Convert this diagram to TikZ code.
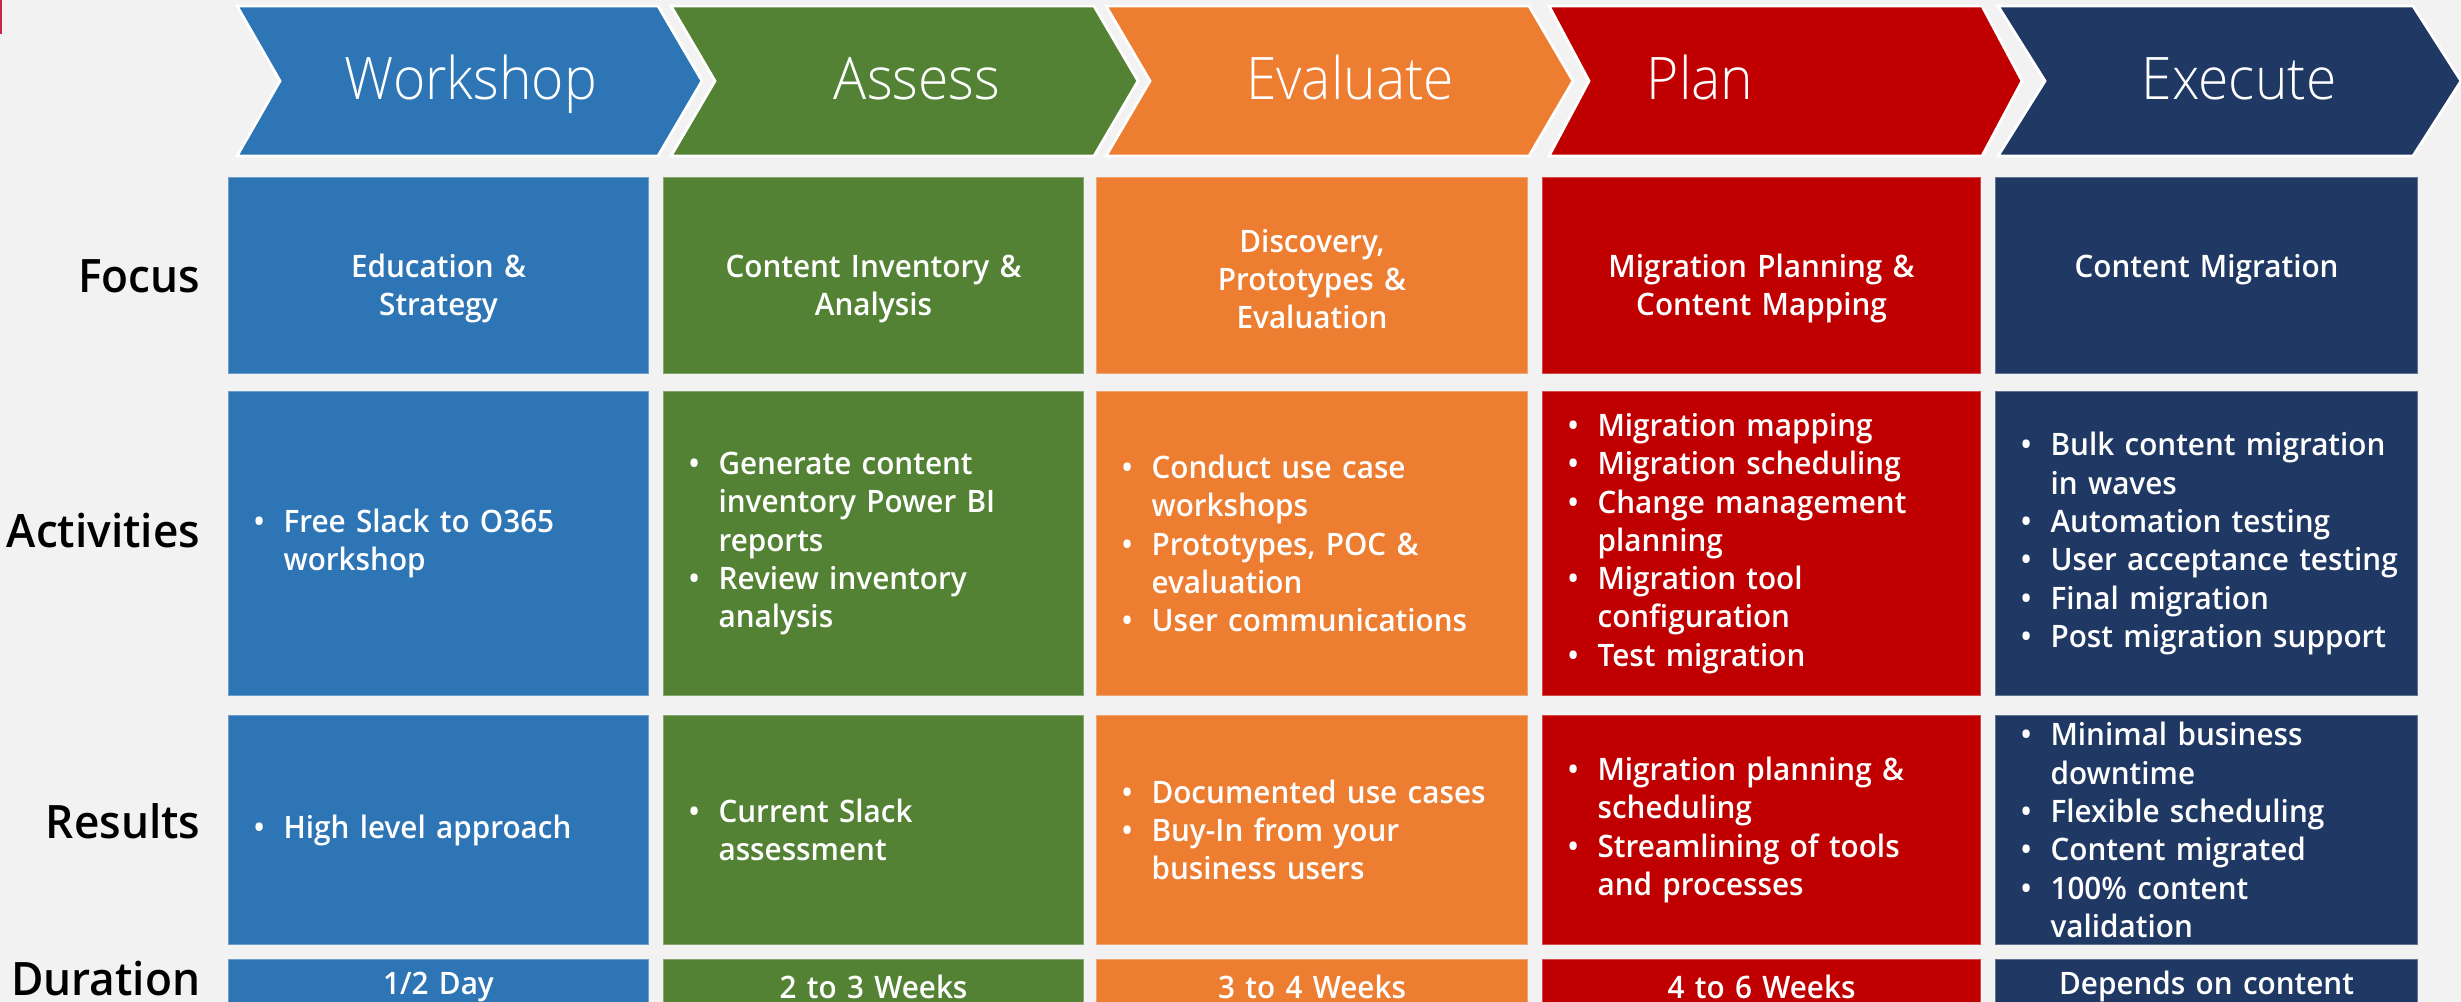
\documentclass[tikz,border=0pt]{standalone}
\usepackage{fontspec}
\setmainfont{Open Sans}
\newfontfamily\semifont{Open Sans Semibold}[FakeStretch=0.96]
\newfontfamily\lightfont{Open Sans Light}[FakeStretch=0.94]
\usepackage{tikz}
\usetikzlibrary{positioning}
\definecolor{bgc}{HTML}{F2F2F2}
\definecolor{wsblue}{HTML}{2E75B6}
\definecolor{asgreen}{HTML}{548235}
\definecolor{evorange}{HTML}{ED7D31}
\definecolor{plred}{HTML}{C00000}
\definecolor{exnavy}{HTML}{203864}
\definecolor{markc}{HTML}{C8254A}
\newcommand{\bitem}[1]{\makebox[3mm][l]{\textbullet}\mbox{#1}}
\newcommand{\bcont}[1]{\hspace*{3mm}\mbox{#1}}
\newcommand{\padtop}[1]{\rule{0pt}{#1}}
\newcommand{\padbot}[1]{\rule[-#1]{0pt}{0pt}}

\begin{document}
\begin{tikzpicture}[x=0.1mm, y=-0.1mm,
	chev/.style = {fill=#1, draw=white, line width=0.8pt, line join=miter},
	phase/.style = {anchor=base, text=white, inner sep=0pt, font=\lightfont\fontsize{16.7}{20}\selectfont},
	rowlab/.style = {anchor=base east, inner sep=0pt, font=\semifont\fontsize{13.1}{15}\selectfont},
	cell/.style = {fill=#1, draw=#1!70!white, line width=0.3pt, text=white, anchor=north west, inner xsep=2.5mm, inner ysep=0pt, align=left, font=\semifont\fontsize{8.8}{10.9}\selectfont},
	mid/.style = {align=center},
	c1/.style = {minimum width=42mm, text width=37mm},
	c2/.style = {minimum width=42mm, text width=37mm},
	c3/.style = {minimum width=43.1mm, text width=38.1mm},
	c4/.style = {minimum width=43.8mm, text width=38.8mm},
	c5/.style = {minimum width=42.2mm, text width=37.2mm},
	rf/.style = {minimum height=19.6mm},
	ra/.style = {minimum height=30.4mm},
	rr/.style = {minimum height=22.9mm},
	rd/.style = {minimum height=5.4mm}]

	\useasboundingbox (0,0) rectangle (2461,1002);
	\fill[bgc] (0,0) rectangle (2461,1002);
	\fill[markc] (0,0) rectangle (2,34);

	% phase chevrons
	\draw[chev=wsblue] (237,6) -- (658,6) -- (702,81) -- (658,156) -- (237,156) -- (280,81) -- cycle;
	\draw[chev=asgreen] (671,6) -- (1094,6) -- (1138,81) -- (1094,156) -- (671,156) -- (715,81) -- cycle;
	\draw[chev=evorange] (1106,6) -- (1529,6) -- (1573,81) -- (1529,156) -- (1106,156) -- (1150,81) -- cycle;
	\draw[chev=plred] (1549,6) -- (1982,6) -- (2022,81) -- (1982,156) -- (1549,156) -- (1589,81) -- cycle;
	\draw[chev=exnavy] (1998,6) -- (2413,6) -- (2461,81) -- (2413,156) -- (1998,156) -- (2045,81) -- cycle;
	\node[phase] (p1) at (471,100) {Workshop};
	\node[phase] (p2) at (917,100) {Assess};
	\node[phase] (p3) at (1350,100) {Evaluate};
	\node[phase] (p4) at (1700,100) {Plan};
	\node[phase] (p5) at (2239,100) {Execute};

	% row labels
	\node[rowlab] (lf) at (201,293) {Focus};
	\node[rowlab] (la) at (201,548) {Activities};
	\node[rowlab] (lr) at (201,839) {Results};
	\node[rowlab] (ld) at (201,995) {Duration};

	% focus
	\node[cell=wsblue, c1, rf, mid] (f1) at (228,177) {\padtop{4.9mm}Education \&\\Strategy};
	\node[cell=asgreen, c2, rf, mid] (f2) at (663,177) {\padtop{4.9mm}Content Inventory \&\\Analysis};
	\node[cell=evorange, c3, rf, mid] (f3) at (1096,177) {\padtop{3mm}Discovery,\\Prototypes \&\\Evaluation};
	\node[cell=plred, c4, rf, mid] (f4) at (1542,177) {\padtop{4.9mm}Migration Planning \&\\Content Mapping};
	\node[cell=exnavy, c5, rf, mid] (f5) at (1995,177) {\padbot{1.95mm}Content Migration};

	% activities
	\node[cell=wsblue, c1, ra] (a1) at (228,391) {\bitem{Free Slack to O365}\\\bcont{workshop}};
	\node[cell=asgreen, c2, ra] (a2) at (663,391) {\bitem{Generate content}\\\bcont{inventory Power BI}\\\bcont{reports}\\\bitem{Review inventory}\\\bcont{analysis}};
	\node[cell=evorange, c3, ra] (a3) at (1096,391) {\bitem{Conduct use case}\\\bcont{workshops}\\\bitem{Prototypes, POC \&}\\\bcont{evaluation}\\\bitem{User communications}};
	\node[cell=plred, c4, ra] (a4) at (1542,391) {\bitem{Migration mapping}\\\bitem{Migration scheduling}\\\bitem{Change management}\\\bcont{planning}\\\bitem{Migration tool}\\\bcont{configuration}\\\bitem{Test migration}};
	\node[cell=exnavy, c5, ra] (a5) at (1995,391) {\bitem{Bulk content migration}\\\bcont{in waves}\\\bitem{Automation testing}\\\bitem{User acceptance testing}\\\bitem{Final migration}\\\bitem{Post migration support}};

	% results
	\node[cell=wsblue, c1, rr] (r1) at (228,715) {\bitem{High level approach}};
	\node[cell=asgreen, c2, rr] (r2) at (663,715) {\bitem{Current Slack}\\\bcont{assessment}};
	\node[cell=evorange, c3, rr] (r3) at (1096,715) {\bitem{Documented use cases}\\\bitem{Buy-In from your}\\\bcont{business users}};
	\node[cell=plred, c4, rr] (r4) at (1542,715) {\bitem{Migration planning \&}\\\bcont{scheduling}\\\bitem{Streamlining of tools}\\\bcont{and processes}};
	\node[cell=exnavy, c5, rr] (r5) at (1995,715) {\bitem{Minimal business}\\\bcont{downtime}\\\bitem{Flexible scheduling}\\\bitem{Content migrated}\\\bitem{100\% content}\\\bcont{validation}};

	% duration
	\node[cell=wsblue, c1, rd, mid] (d1) at (228,959) {1/2 Day};
	\node[cell=asgreen, c2, rd, mid] (d2) at (663,959) {2 to 3 Weeks};
	\node[cell=evorange, c3, rd, mid] (d3) at (1096,959) {3 to 4 Weeks};
	\node[cell=plred, c4, rd, mid] (d4) at (1542,959) {4 to 6 Weeks};
	\node[cell=exnavy, c5, rd, mid] (d5) at (1995,959) {Depends on content};
\end{tikzpicture}
\end{document}
